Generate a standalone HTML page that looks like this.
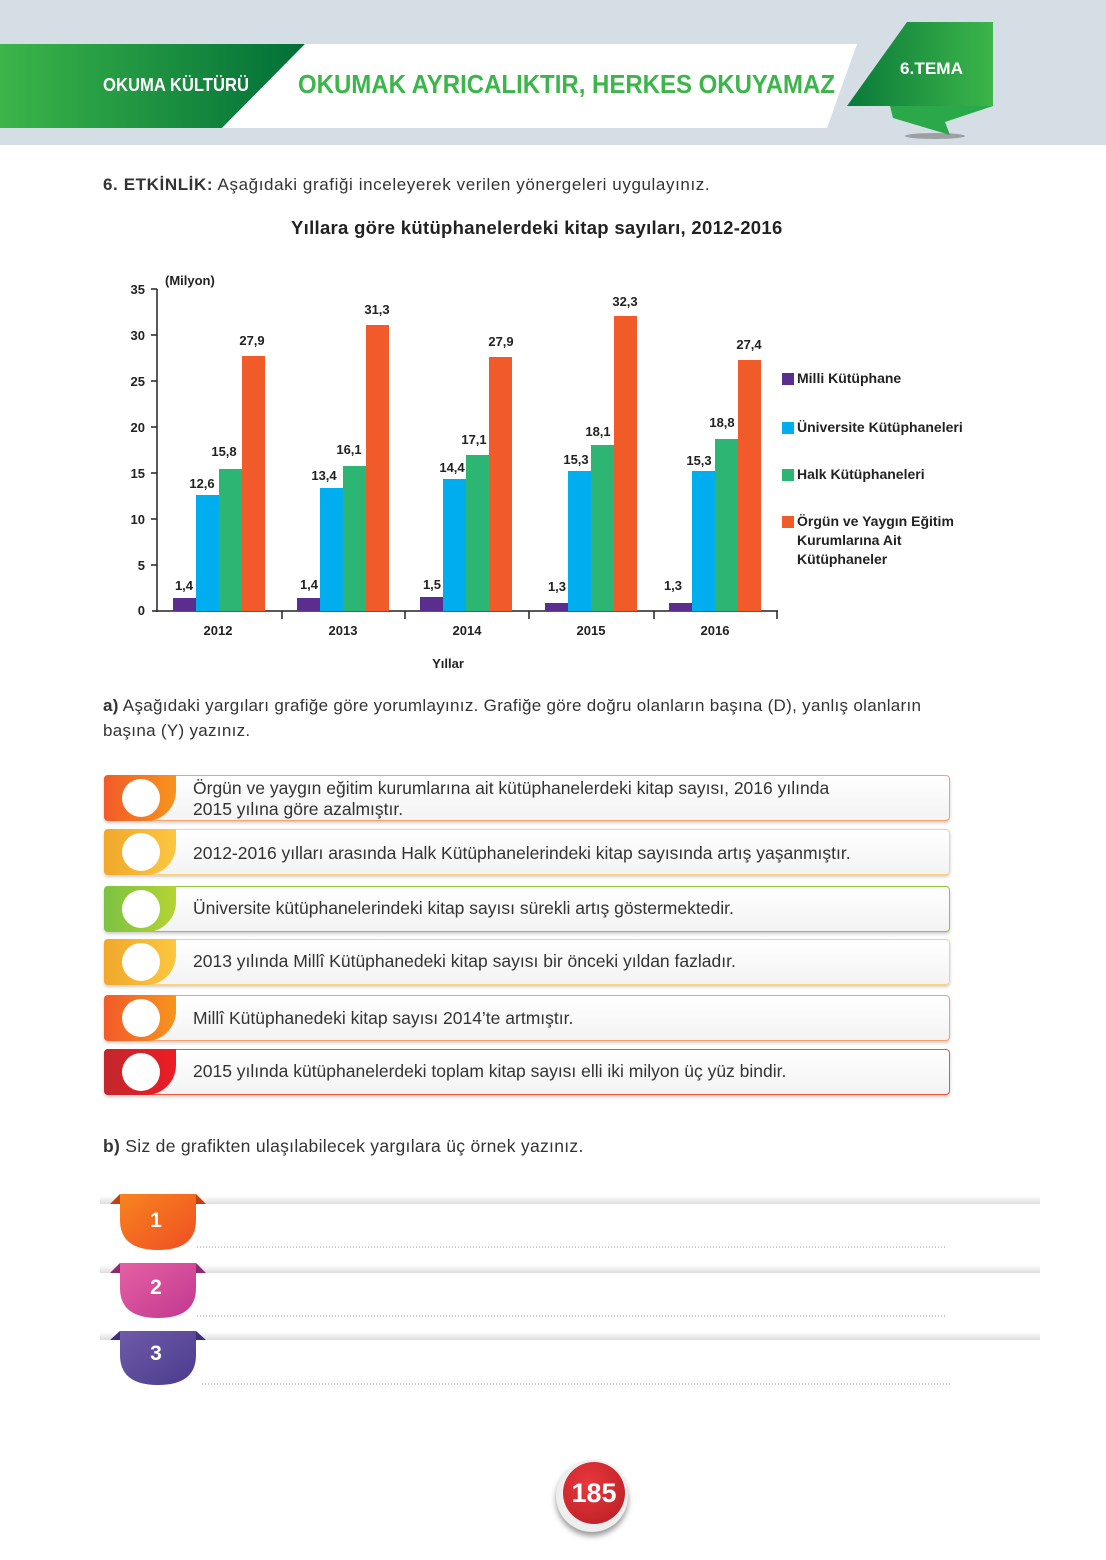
<!DOCTYPE html>
<html><head><meta charset="utf-8"><style>
body{margin:0;width:1106px;height:1560px;position:relative;background:#fff;font-family:"Liberation Sans",sans-serif;overflow:hidden}
.a{position:absolute}
.row{position:absolute;left:104px;width:844px;border:1px solid #f4a26a;border-radius:4px;background:linear-gradient(#fff,#f3f3f3);box-shadow:0 2px 3px #ccc}
.tab{position:absolute;left:-1px;top:-1px;bottom:-1px;width:72px;border-radius:4px 0 30px 4px}
.circ{position:absolute;left:18px;top:50%;margin-top:-19px;width:38px;height:38px;border-radius:50%;background:#fff}
.txt{position:absolute;left:88px;font-size:17.5px;color:#333;line-height:21px}
</style></head><body>
<div class="a" style="left:0;top:0;width:1106px;height:145px;background:#d5dee5"></div>
<svg class="a" style="left:0;top:0" width="1106" height="150">
<defs><linearGradient id="g1" x1="0" x2="1"><stop offset="0" stop-color="#3cb54a"/><stop offset="1" stop-color="#006f37"/></linearGradient>
<linearGradient id="g2" x1="0" x2="1"><stop offset="0" stop-color="#0a7a3a"/><stop offset="1" stop-color="#3cb54a"/></linearGradient></defs>
<polygon points="0,44 305,44 222,128 0,128" fill="url(#g1)"/>
<polygon points="305,44 857,44 827,128 222,128" fill="#fff"/>
<polygon points="907,22 993,22 993,106 847,106" fill="url(#g2)"/>
<polygon points="890,106 993,106 945,122 950,135 893,118" fill="#2aa84a"/>
<ellipse cx="935" cy="136" rx="30" ry="3" fill="#777" opacity=".6"/>
<text x="103" y="91" font-size="18" font-weight="bold" fill="#fff" font-family="Liberation Sans" textLength="146" lengthAdjust="spacingAndGlyphs">OKUMA KÜLTÜRÜ</text>
<text x="298" y="93" font-size="26" font-weight="bold" fill="#3cb54a" font-family="Liberation Sans" textLength="537" lengthAdjust="spacingAndGlyphs">OKUMAK AYRICALIKTIR, HERKES OKUYAMAZ</text>
<text x="900" y="74" font-size="17" font-weight="bold" fill="#fff" font-family="Liberation Sans" textLength="63" lengthAdjust="spacingAndGlyphs">6.TEMA</text>
</svg>
<div class="a" style="left:103px;top:175px;font-size:17px;letter-spacing:.6px;color:#333;white-space:nowrap"><b>6. ETKİNLİK:</b> Aşağıdaki grafiği inceleyerek verilen yönergeleri uygulayınız.</div>
<div class="a" style="left:291px;top:217px;font-size:18.5px;letter-spacing:.3px;font-weight:bold;color:#222;white-space:nowrap">Yıllara göre kütüphanelerdeki kitap sayıları, 2012-2016</div>
<svg class="a" style="left:0;top:260px" width="1106" height="420" font-family="Liberation Sans" font-weight="bold" font-size="13" fill="#222">
<g transform="translate(0,-260)">
<line x1="157" y1="289" x2="157" y2="612" stroke="#222" stroke-width="1.5"/>
<line x1="152" y1="611" x2="778" y2="611" stroke="#222" stroke-width="1.5"/>
<g stroke="#222" stroke-width="1.5">
<line x1="151" y1="289" x2="157" y2="289"/><line x1="151" y1="335" x2="157" y2="335"/><line x1="151" y1="381" x2="157" y2="381"/><line x1="151" y1="427" x2="157" y2="427"/><line x1="151" y1="473" x2="157" y2="473"/><line x1="151" y1="519" x2="157" y2="519"/><line x1="151" y1="565" x2="157" y2="565"/>
<line x1="282" y1="611" x2="282" y2="619"/><line x1="405" y1="611" x2="405" y2="619"/><line x1="529" y1="611" x2="529" y2="619"/><line x1="654" y1="611" x2="654" y2="619"/><line x1="777" y1="611" x2="777" y2="619"/>
</g>
<g text-anchor="end"><text x="145" y="294">35</text><text x="145" y="340">30</text><text x="145" y="386">25</text><text x="145" y="432">20</text><text x="145" y="478">15</text><text x="145" y="524">10</text><text x="145" y="570">5</text><text x="145" y="615">0</text></g>
<text x="165" y="285">(Milyon)</text>
<g text-anchor="middle"><text x="218" y="635">2012</text><text x="343" y="635">2013</text><text x="467" y="635">2014</text><text x="591" y="635">2015</text><text x="715" y="635">2016</text><text x="448" y="668">Yıllar</text></g>
<g>
<rect x="173" y="598" width="23" height="13" fill="#5b2d8e"/><rect x="196" y="495" width="23" height="116" fill="#00aeef"/><rect x="219" y="469" width="23" height="142" fill="#2db673"/><rect x="242" y="356" width="23" height="255" fill="#f15a29"/>
<rect x="297" y="598" width="23" height="13" fill="#5b2d8e"/><rect x="320" y="488" width="23" height="123" fill="#00aeef"/><rect x="343" y="466" width="23" height="145" fill="#2db673"/><rect x="366" y="325" width="23" height="286" fill="#f15a29"/>
<rect x="420" y="597" width="23" height="14" fill="#5b2d8e"/><rect x="443" y="479" width="23" height="132" fill="#00aeef"/><rect x="466" y="455" width="23" height="156" fill="#2db673"/><rect x="489" y="357" width="23" height="254" fill="#f15a29"/>
<rect x="545" y="603" width="23" height="8" fill="#5b2d8e"/><rect x="568" y="471" width="23" height="140" fill="#00aeef"/><rect x="591" y="445" width="23" height="166" fill="#2db673"/><rect x="614" y="316" width="23" height="295" fill="#f15a29"/>
<rect x="669" y="603" width="23" height="8" fill="#5b2d8e"/><rect x="692" y="471" width="23" height="140" fill="#00aeef"/><rect x="715" y="439" width="23" height="172" fill="#2db673"/><rect x="738" y="360" width="23" height="251" fill="#f15a29"/>
</g>
<g text-anchor="middle">
<text x="184" y="590">1,4</text><text x="202" y="488">12,6</text><text x="224" y="456">15,8</text><text x="252" y="345">27,9</text>
<text x="309" y="589">1,4</text><text x="324" y="480">13,4</text><text x="349" y="454">16,1</text><text x="377" y="314">31,3</text>
<text x="432" y="589">1,5</text><text x="452" y="472">14,4</text><text x="474" y="444">17,1</text><text x="501" y="346">27,9</text>
<text x="557" y="591">1,3</text><text x="576" y="464">15,3</text><text x="598" y="436">18,1</text><text x="625" y="306">32,3</text>
<text x="673" y="590">1,3</text><text x="699" y="465">15,3</text><text x="722" y="427">18,8</text><text x="749" y="349">27,4</text>
</g>
<rect x="782" y="373" width="12" height="12" fill="#5b2d8e"/><text x="797" y="383" font-size="14">Milli Kütüphane</text>
<rect x="782" y="422" width="12" height="12" fill="#00aeef"/><text x="797" y="432" font-size="14">Üniversite Kütüphaneleri</text>
<rect x="782" y="469" width="12" height="12" fill="#2db673"/><text x="797" y="479" font-size="14">Halk Kütüphaneleri</text>
<rect x="782" y="516" width="12" height="12" fill="#f15a29"/><text x="797" y="526" font-size="14">Örgün ve Yaygın Eğitim</text>
<text x="797" y="545" font-size="14">Kurumlarına Ait</text><text x="797" y="564" font-size="14">Kütüphaneler</text>
</g></svg>
<div class="a" style="left:103px;top:693px;width:870px;font-size:17px;letter-spacing:.3px;color:#333;line-height:25px"><b>a)</b> Aşağıdaki yargıları grafiğe göre yorumlayınız. Grafiğe göre doğru olanların başına (D), yanlış olanların başına (Y) yazınız.</div>

<div class="row" style="top:775px;height:44px"><div class="tab" style="background:linear-gradient(90deg,#f15a29,#f7941d)"><div class="circ"></div></div><div class="txt" style="top:2px">Örgün ve yaygın eğitim kurumlarına ait kütüphanelerdeki kitap sayısı, 2016 yılında<br>2015 yılına göre azalmıştır.</div></div>
<div class="row" style="top:829px;height:44px;border-color:#fbd27a"><div class="tab" style="background:linear-gradient(90deg,#f0a82a,#fdc640)"><div class="circ"></div></div><div class="txt" style="top:13px">2012-2016 yılları arasında Halk Kütüphanelerindeki kitap sayısında artış yaşanmıştır.</div></div>
<div class="row" style="top:886px;height:44px;border-color:#8dc63f"><div class="tab" style="background:linear-gradient(90deg,#7cc242,#b5d334)"><div class="circ"></div></div><div class="txt" style="top:11px">Üniversite kütüphanelerindeki kitap sayısı sürekli artış göstermektedir.</div></div>
<div class="row" style="top:939px;height:44px;border-color:#fbd27a"><div class="tab" style="background:linear-gradient(90deg,#f0a82a,#fdc640)"><div class="circ"></div></div><div class="txt" style="top:11px">2013 yılında Millî Kütüphanedeki kitap sayısı bir önceki yıldan fazladır.</div></div>
<div class="row" style="top:995px;height:44px"><div class="tab" style="background:linear-gradient(90deg,#f15a29,#f7941d)"><div class="circ"></div></div><div class="txt" style="top:12px">Millî Kütüphanedeki kitap sayısı 2014’te artmıştır.</div></div>
<div class="row" style="top:1049px;height:44px;border-color:#e9573f"><div class="tab" style="background:linear-gradient(90deg,#c1272d,#ed1c24)"><div class="circ"></div></div><div class="txt" style="top:11px">2015 yılında kütüphanelerdeki toplam kitap sayısı elli iki milyon üç yüz bindir.</div></div>

<div class="a" style="left:103px;top:1136px;font-size:17.5px;letter-spacing:.3px;color:#333;white-space:nowrap"><b>b)</b> Siz de grafikten ulaşılabilecek yargılara üç örnek yazınız.</div>

<svg class="a" style="left:0;top:1180px" width="1106" height="230" font-family="Liberation Sans">
<defs>
<linearGradient id="sh" x1="0" y1="0" x2="0" y2="1"><stop offset="0" stop-color="#fff"/><stop offset="1" stop-color="#ddd"/></linearGradient>
<linearGradient id="o" x1="0" y1="0" x2="1" y2="1"><stop offset="0" stop-color="#f7841f"/><stop offset="1" stop-color="#ef4e23"/></linearGradient>
<linearGradient id="p" x1="0" y1="0" x2="1" y2="1"><stop offset="0" stop-color="#e560a4"/><stop offset="1" stop-color="#c1388f"/></linearGradient>
<linearGradient id="v" x1="0" y1="0" x2="1" y2="1"><stop offset="0" stop-color="#6f5ba6"/><stop offset="1" stop-color="#4b3a8e"/></linearGradient>
</defs>
<rect x="100" y="16" width="940" height="8" fill="url(#sh)"/>
<rect x="100" y="85" width="940" height="8" fill="url(#sh)"/>
<rect x="100" y="152" width="940" height="8" fill="url(#sh)"/>
<polygon points="110,24 120,14 196,14 206,24" fill="#c2410f"/>
<path d="M120,14 H196 V40 Q196,70 158,70 Q120,70 120,40 Z" fill="url(#o)"/>
<polygon points="110,93 120,83 196,83 206,93" fill="#8e2a6e"/>
<path d="M120,83 H196 V108 Q196,138 158,138 Q120,138 120,108 Z" fill="url(#p)"/>
<polygon points="110,160 120,151 196,151 206,160" fill="#3f2f78"/>
<path d="M120,151 H196 V175 Q196,205 158,205 Q120,205 120,175 Z" fill="url(#v)"/>
<g fill="#fff" font-size="21" font-weight="bold" text-anchor="middle"><text x="156" y="47">1</text><text x="156" y="114">2</text><text x="156" y="180">3</text></g>
<g stroke="#999" stroke-dasharray="1,2"><line x1="197" y1="67" x2="947" y2="67"/><line x1="197" y1="136" x2="947" y2="136"/><line x1="202" y1="204" x2="952" y2="204"/></g>
</svg>

<div class="a" style="left:556px;top:1460px;width:72px;height:72px;border-radius:50%;background:#eee;box-shadow:0 4px 6px #999"></div>
<div class="a" style="left:563px;top:1462px;width:62px;height:62px;border-radius:50%;background:radial-gradient(circle at 40% 35%,#e8383d,#b51d22);color:#fff;font-size:27px;font-weight:bold;text-align:center;line-height:62px">185</div>
</body></html>
